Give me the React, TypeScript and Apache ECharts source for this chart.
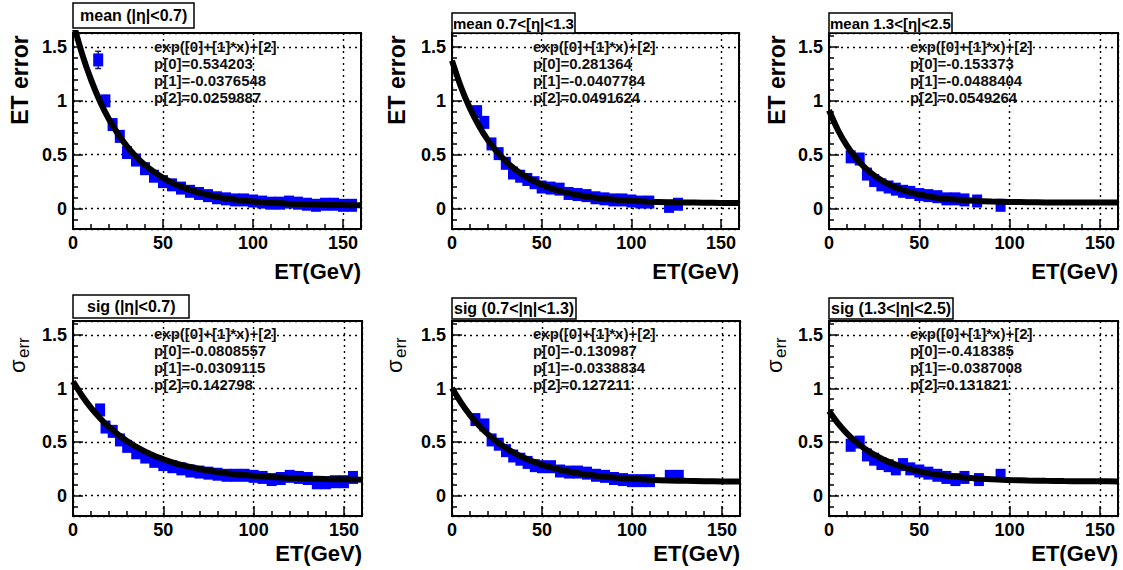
import { useEffect, useRef } from 'react';
import * as echarts from 'echarts';

const FONT = '"Liberation Sans", Arial, Helvetica, sans-serif';

// ---- texts ----
const panelTitles = [
  'mean (|η|<0.7)',
  'mean 0.7<[η|<1.3',
  'mean 1.3<[η|<2.5',
  'sig (|η|<0.7)',
  'sig (0.7<|η|<1.3)',
  'sig (1.3<|η|<2.5)',
];
const fitFormula = 'exp([0]+[1]*x)+[2]';
const fitP0 = ['0.534203', '0.281364', '-0.153373', '-0.0808557', '-0.130987', '-0.418385'];
const fitP1 = ['-0.0376548', '-0.0407784', '-0.0488404', '-0.0309115', '-0.0338834', '-0.0387008'];
const fitP2 = ['0.0259887', '0.0491624', '0.0549264', '0.142798', '0.127211', '0.131821'];
const xAxisTitle = 'ET(GeV)';
const yTitleMean = 'ET error';

// ---- data points (ET, value) ----
const meanCentralET = [14, 18, 22, 26, 30, 35, 40, 45, 50, 55, 60, 65, 70, 75, 80, 85, 90, 95, 100, 105, 110, 115, 120, 125, 130, 135, 140, 145, 150, 155];
const meanCentralVal = [1.38, 1.0, 0.78, 0.67, 0.52, 0.45, 0.37, 0.3, 0.25, 0.22, 0.19, 0.16, 0.14, 0.12, 0.1, 0.09, 0.08, 0.08, 0.07, 0.06, 0.05, 0.05, 0.06, 0.05, 0.04, 0.03, 0.04, 0.04, 0.03, 0.03];
const meanCentralErrET = [14];
const meanCentralErrVal = [1.38];
const meanCentralErr = [0.08];

const meanMidET = [14, 18, 22, 26, 30, 34, 38, 42, 46, 50, 55, 60, 65, 70, 75, 80, 85, 90, 95, 100, 105, 110, 121, 126];
const meanMidVal = [0.9, 0.8, 0.6, 0.51, 0.42, 0.33, 0.3, 0.27, 0.24, 0.2, 0.19, 0.18, 0.14, 0.13, 0.12, 0.1, 0.09, 0.08, 0.08, 0.07, 0.06, 0.06, 0.02, 0.04];

const meanFwdET = [12, 17, 21, 25, 29, 33, 37, 41, 45, 50, 55, 60, 65, 70, 75, 82, 95];
const meanFwdVal = [0.48, 0.46, 0.32, 0.26, 0.22, 0.2, 0.18, 0.16, 0.15, 0.13, 0.12, 0.11, 0.09, 0.09, 0.08, 0.07, 0.03];

const sigCentralET = [15, 18, 22, 26, 30, 35, 40, 45, 50, 55, 60, 65, 70, 75, 80, 85, 90, 95, 100, 105, 110, 115, 120, 125, 130, 135, 140, 145, 150, 155];
const sigCentralVal = [0.8, 0.64, 0.6, 0.52, 0.46, 0.4, 0.36, 0.32, 0.29, 0.27, 0.25, 0.23, 0.22, 0.21, 0.2, 0.19, 0.19, 0.19, 0.18, 0.17, 0.15, 0.16, 0.18, 0.17, 0.16, 0.12, 0.12, 0.13, 0.13, 0.17];

const sigMidET = [13, 18, 22, 26, 30, 34, 38, 42, 46, 50, 55, 60, 65, 70, 75, 80, 85, 90, 95, 100, 105, 110, 121, 126];
const sigMidVal = [0.71, 0.66, 0.52, 0.48, 0.42, 0.37, 0.34, 0.31, 0.28, 0.27, 0.27, 0.23, 0.22, 0.22, 0.21, 0.19, 0.18, 0.16, 0.15, 0.14, 0.14, 0.14, 0.18, 0.18];

const sigFwdET = [12, 17, 21, 25, 29, 33, 37, 41, 45, 50, 55, 60, 65, 70, 75, 83, 95];
const sigFwdVal = [0.47, 0.5, 0.38, 0.34, 0.3, 0.28, 0.25, 0.29, 0.25, 0.23, 0.21, 0.19, 0.17, 0.15, 0.17, 0.15, 0.19];

// ---- fit curves ----
const curveET = [0, 5, 10, 15, 20, 25, 30, 35, 40, 45, 50, 55, 60, 70, 80, 90, 100, 110, 120, 130, 140, 150, 160];
const curveMeanCentral = [1.732, 1.439, 1.197, 0.995, 0.829, 0.692, 0.577, 0.483, 0.404, 0.34, 0.286, 0.241, 0.204, 0.148, 0.11, 0.084, 0.066, 0.053, 0.045, 0.039, 0.035, 0.032, 0.03];
const curveMeanMid = [1.374, 1.129, 0.931, 0.768, 0.635, 0.527, 0.439, 0.367, 0.308, 0.261, 0.222, 0.19, 0.164, 0.126, 0.1, 0.083, 0.072, 0.064, 0.059, 0.056, 0.054, 0.052, 0.051];
const curveMeanFwd = [0.913, 0.727, 0.581, 0.467, 0.378, 0.308, 0.253, 0.21, 0.177, 0.15, 0.13, 0.113, 0.101, 0.083, 0.072, 0.065, 0.061, 0.059, 0.057, 0.056, 0.056, 0.055, 0.055];
const curveSigCentral = [1.065, 0.933, 0.82, 0.723, 0.64, 0.569, 0.508, 0.455, 0.411, 0.372, 0.34, 0.311, 0.287, 0.249, 0.221, 0.2, 0.185, 0.174, 0.165, 0.159, 0.155, 0.152, 0.149];
const curveSigMid = [1.004, 0.868, 0.752, 0.655, 0.572, 0.503, 0.444, 0.395, 0.353, 0.318, 0.288, 0.263, 0.242, 0.209, 0.186, 0.169, 0.157, 0.148, 0.142, 0.138, 0.135, 0.133, 0.131];
const curveSigFwd = [0.79, 0.674, 0.579, 0.5, 0.436, 0.382, 0.338, 0.302, 0.272, 0.247, 0.227, 0.21, 0.196, 0.176, 0.162, 0.152, 0.146, 0.141, 0.138, 0.136, 0.135, 0.134, 0.133];

const xTickValues = [0, 50, 100, 150];
const yTickValues = [0, 0.5, 1, 1.5];

const panelET = [meanCentralET, meanMidET, meanFwdET, sigCentralET, sigMidET, sigFwdET];
const panelVal = [meanCentralVal, meanMidVal, meanFwdVal, sigCentralVal, sigMidVal, sigFwdVal];
const panelCurve = [curveMeanCentral, curveMeanMid, curveMeanFwd, curveSigCentral, curveSigMid, curveSigFwd];

// ---- layout ----
const gridBoxes = [
  { l: 73, t: 33, w: 288, h: 196 },
  { l: 452, t: 33, w: 287, h: 196 },
  { l: 829, t: 33, w: 289, h: 196 },
  { l: 73, t: 321, w: 289, h: 195 },
  { l: 452, t: 321, w: 288, h: 195 },
  { l: 829, t: 321, w: 289, h: 195 },
];
const titleBoxes = [
  { l: 73, t: 3, fs: 16, pad: [4, 7] },
  { l: 452, t: 13, fs: 15, pad: [2, 1] },
  { l: 829, t: 13, fs: 15, pad: [2, 1] },
  { l: 73, t: 295, fs: 16, pad: [3, 14] },
  { l: 452, t: 298, fs: 16, pad: [2, 2] },
  { l: 829, t: 298, fs: 16, pad: [2, 2] },
];
const yTitleX = [20, 397, 777];

const BLUE = '#0000ff';

function isTick(v: number, list: number[]) {
  return list.some((t) => Math.abs(t - v) < 1e-6);
}

export default function App() {
  const ref = useRef<HTMLDivElement>(null);
  useEffect(() => {
    document.body.style.margin = '0';
    const chart = echarts.init(ref.current!, undefined, { renderer: 'svg' });

    const grid = gridBoxes.map((b) => ({
      left: b.l, top: b.t, width: b.w, height: b.h,
      show: true, borderColor: '#000', borderWidth: 2, backgroundColor: 'transparent',
    }));

    const gridLine = { show: true, lineStyle: { color: '#000', type: [2, 4] as any, width: 1.4 } };
    const labelStyle = { color: '#000', fontSize: 18, fontWeight: 'bold' as const, fontFamily: FONT };

    const xAxis = gridBoxes.map((_, i) => ({
      gridIndex: i, type: 'value' as const, min: 0, max: 160, interval: 50,
      axisLine: { show: true, onZero: false, lineStyle: { color: '#000', width: 2 } },
      axisTick: { show: true, inside: true, length: 10, lineStyle: { color: '#000', width: 1.5 } },
      minorTick: { show: true, splitNumber: 5, length: 5, lineStyle: { color: '#000', width: 1.5 } },
      axisLabel: { ...labelStyle, margin: 5, formatter: (v: number) => (isTick(v, xTickValues) ? String(v) : '') },
      splitLine: gridLine,
    }));

    const yAxis = gridBoxes.map((_, i) => ({
      gridIndex: i, type: 'value' as const, min: -0.19, max: 1.63, splitNumber: 4,
      axisLine: { show: true, onZero: false, lineStyle: { color: '#000', width: 2 } },
      axisTick: { show: true, inside: true, length: 10, lineStyle: { color: '#000', width: 1.5 } },
      minorTick: { show: true, splitNumber: 5, length: 5, lineStyle: { color: '#000', width: 1.5 } },
      axisLabel: { ...labelStyle, margin: 6, formatter: (v: number) => (isTick(v, yTickValues) ? String(v) : '') },
      splitLine: gridLine,
    }));

    const series: any[] = [];
    gridBoxes.forEach((_, i) => {
      series.push({
        type: 'scatter', xAxisIndex: i, yAxisIndex: i, symbol: 'rect', symbolSize: [10, 13],
        itemStyle: { color: BLUE, opacity: 1 }, z: 2,
        data: panelET[i].map((x, k) => [x, panelVal[i][k]]),
      });
      series.push({
        type: 'line', xAxisIndex: i, yAxisIndex: i, showSymbol: false, symbol: 'none',
        smooth: 0.3, clip: true,
        lineStyle: { color: '#000', width: 6 }, z: 3,
        data: curveET.map((x, k) => [x, panelCurve[i][k]]),
      });
    });
    series.push({
      type: 'custom', xAxisIndex: 0, yAxisIndex: 0, z: 1,
      data: meanCentralErrET.map((x, k) => [x, meanCentralErrVal[k], meanCentralErr[k]]),
      renderItem: (_p: any, api: any) => {
        const x = api.value(0), y = api.value(1), e = api.value(2);
        const top = api.coord([x, y + e]);
        const bot = api.coord([x, y - e]);
        const st = { stroke: '#1a1a60', lineWidth: 1.5 };
        return {
          type: 'group',
          children: [
            { type: 'line', shape: { x1: top[0], y1: top[1], x2: bot[0], y2: bot[1] }, style: st },
            { type: 'line', shape: { x1: top[0] - 3, y1: top[1], x2: top[0] + 3, y2: top[1] }, style: st },
            { type: 'line', shape: { x1: bot[0] - 3, y1: bot[1], x2: bot[0] + 3, y2: bot[1] }, style: st },
          ],
        };
      },
    });

    const title = panelTitles.map((t, i) => ({
      text: t, left: titleBoxes[i].l, top: titleBoxes[i].t,
      padding: titleBoxes[i].pad, borderColor: '#000', borderWidth: 1.5, backgroundColor: '#fff',
      textStyle: { fontSize: titleBoxes[i].fs, fontWeight: 'bold', color: '#000', fontFamily: FONT, lineHeight: titleBoxes[i].fs + 1 },
    }));

    const graphic: any[] = [];
    gridBoxes.forEach((b, i) => {
      const row = i < 3 ? 0 : 1;
      const col = i % 3;
      const lines = [fitFormula, 'p[0]=' + fitP0[i], 'p[1]=' + fitP1[i], 'p[2]=' + fitP2[i]];
      const y0 = row === 0 ? 46 : 333;
      lines.forEach((s, k) => {
        graphic.push({
          type: 'text', x: b.l + 81, y: y0 + k * 17, z: 10,
          style: { text: s, fill: '#111', font: `bold 15px ${FONT}`, textVerticalAlign: 'middle', textAlign: 'left' },
        });
      });
      graphic.push({
        type: 'text', x: b.l + b.w, y: row === 0 ? 271 : 553, z: 10,
        style: { text: xAxisTitle, fill: '#000', font: `bold 22px ${FONT}`, textAlign: 'right', textVerticalAlign: 'middle' },
      });
      if (row === 0) {
        graphic.push({
          type: 'text', x: yTitleX[col], y: 80, rotation: Math.PI / 2, z: 10,
          style: { text: yTitleMean, fill: '#000', font: `bold 23px ${FONT}`, textAlign: 'center', textVerticalAlign: 'middle' },
        });
      } else {
        const sx = yTitleX[col] - 3;
        graphic.push({
          type: 'text', x: sx, y: 373, rotation: Math.PI / 2, z: 10,
          style: { text: 'σ', fill: '#000', font: `22px ${FONT}`, textAlign: 'left', textVerticalAlign: 'middle' },
        });
        graphic.push({
          type: 'text', x: sx + 6, y: 358, rotation: Math.PI / 2, z: 10,
          style: { text: 'err', fill: '#000', font: `17px ${FONT}`, textAlign: 'left', textVerticalAlign: 'middle' },
        });
      }
    });

    chart.setOption({
      animation: false,
      backgroundColor: '#fff',
      title, grid, xAxis, yAxis, series, graphic,
    });
    return () => chart.dispose();
  }, []);
  return <div ref={ref} style={{ width: 1123, height: 570 }} />;
}
